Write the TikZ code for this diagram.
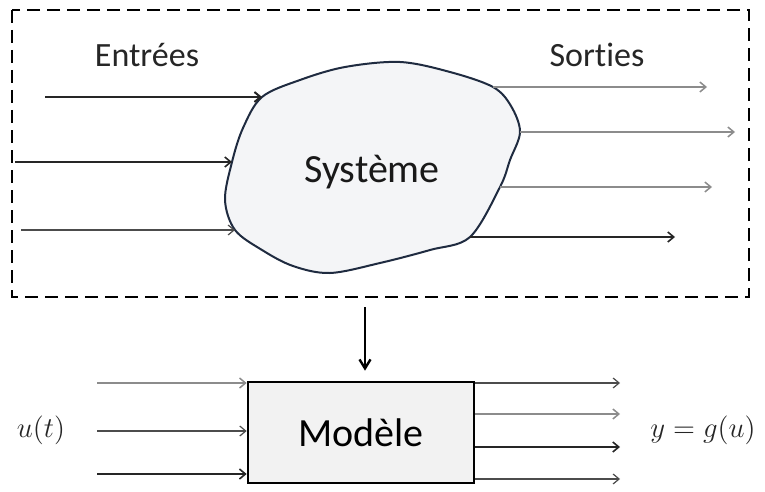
\documentclass[tikz,border=0pt]{standalone}
\usepackage{fontspec}
\setmainfont[Ligatures=NoCommon]{Carlito}
\usetikzlibrary{arrows.meta, positioning, calc}
\definecolor{blobline}{HTML}{1F2B40}
\definecolor{blobfill}{HTML}{F4F5F7}
\definecolor{boxfill}{HTML}{F2F2F2}

\begin{document}
\begin{tikzpicture}[
		x=0.5pt, y=-0.5pt,
		flow/.style={draw, line width=0.6pt, black!70, -{Straight Barb[length=3pt, width=5pt]}},
		flow_dark/.style={flow, black!85, line width=0.8pt},
		flow_light/.style={flow, black!45, line width=0.75pt},
		heading/.style={font=\fontsize{17}{20}\selectfont, text=black!85},
		sysname/.style={font=\fontsize{20}{24}\selectfont, text=black!90},
		mathlabel/.style={font=\fontsize{14}{17}\selectfont, text=black!85},
		modelbox/.style={rectangle, draw, line width=1.3pt, fill=boxfill, minimum width=113pt, minimum height=50.5pt, font=\fontsize{20}{24}\selectfont}
	]
	\useasboundingbox (0,0) rectangle (765,492);

	% System boundary
	\draw [line width=1.3pt, dash pattern=on 6.5pt off 3.5pt] (12,10) rectangle (749,297);

	% Points on the system outline
	\coordinate (in1) at (262,97);
	\coordinate (in2) at (232,162);
	\coordinate (in3) at (235,230);
	\coordinate (out1) at (493,87);
	\coordinate (out2) at (520,132);
	\coordinate (out3) at (500,187);
	\coordinate (out4) at (470,237);

	% System
	\filldraw [blobline, fill=blobfill, line width=1pt] plot [smooth cycle, tension=0.55] coordinates {(in1) (300,80) (345,67) (400,62) (450,72) (out1) (511,106) (out2) (510,160) (out3) (out4) (430,250) (380,263) (330,273) (293,266) (262,250) (in3) (225,200) (in2) (243,128)};
	\node [sysname] (sys) at (372,172) {Système};

	\node [heading] (entrees) at (147,55) {Entrées};
	\node [heading] (sorties) at (597,55) {Sorties};

	% Inputs and outputs of the system
	\coordinate (src1) at (45,97);
	\coordinate (src2) at (15,162);
	\coordinate (src3) at (21,230);
	\coordinate (dst1) at (707,87);
	\coordinate (dst2) at (735,132);
	\coordinate (dst3) at (712,187);
	\coordinate (dst4) at (675,237);

	\path [flow_dark, line width=1pt] (src1) -- (in1);
	\path [flow_dark] (src2) -- (in2);
	\path [flow] (src3) -- (in3);
	\path [flow_light] (out1) -- (dst1);
	\path [flow_light] (out2) -- (dst2);
	\path [flow_light] (out3) -- (dst3);
	\path [flow_dark] (out4) -- (dst4);

	% Model
	\node [modelbox] (modele) at (361,432.5) {Modèle};
	\coordinate (abstr) at (365,307);
	\path [draw, line width=1.2pt, -{Straight Barb[length=4.5pt, width=5.5pt]}, shorten >=5pt] (abstr) -- (abstr |- modele.north);

	% Inputs and outputs of the model
	\coordinate (u1) at (97,383);
	\coordinate (u2) at (97,431);
	\coordinate (u3) at (97,474);
	\coordinate (y1) at (620,383);
	\coordinate (y2) at (620,414);
	\coordinate (y3) at (620,447);
	\coordinate (y4) at (620,479);

	\path [flow_light] (u1) -- (u1 -| modele.west);
	\path [flow] (u2) -- (u2 -| modele.west);
	\path [flow_dark] (u3) -- (u3 -| modele.west);
	\path [flow] (modele.east |- y1) -- (y1);
	\path [flow_light] (modele.east |- y2) -- (y2);
	\path [flow_dark] (modele.east |- y3) -- (y3);
	\path [flow] (modele.east |- y4) -- (y4);

	\node [mathlabel] (uin) at (41,430) {$u(t)$};
	\node [mathlabel] (yout) at (703,430) {$y = g(u)$};

\end{tikzpicture}
\end{document}
